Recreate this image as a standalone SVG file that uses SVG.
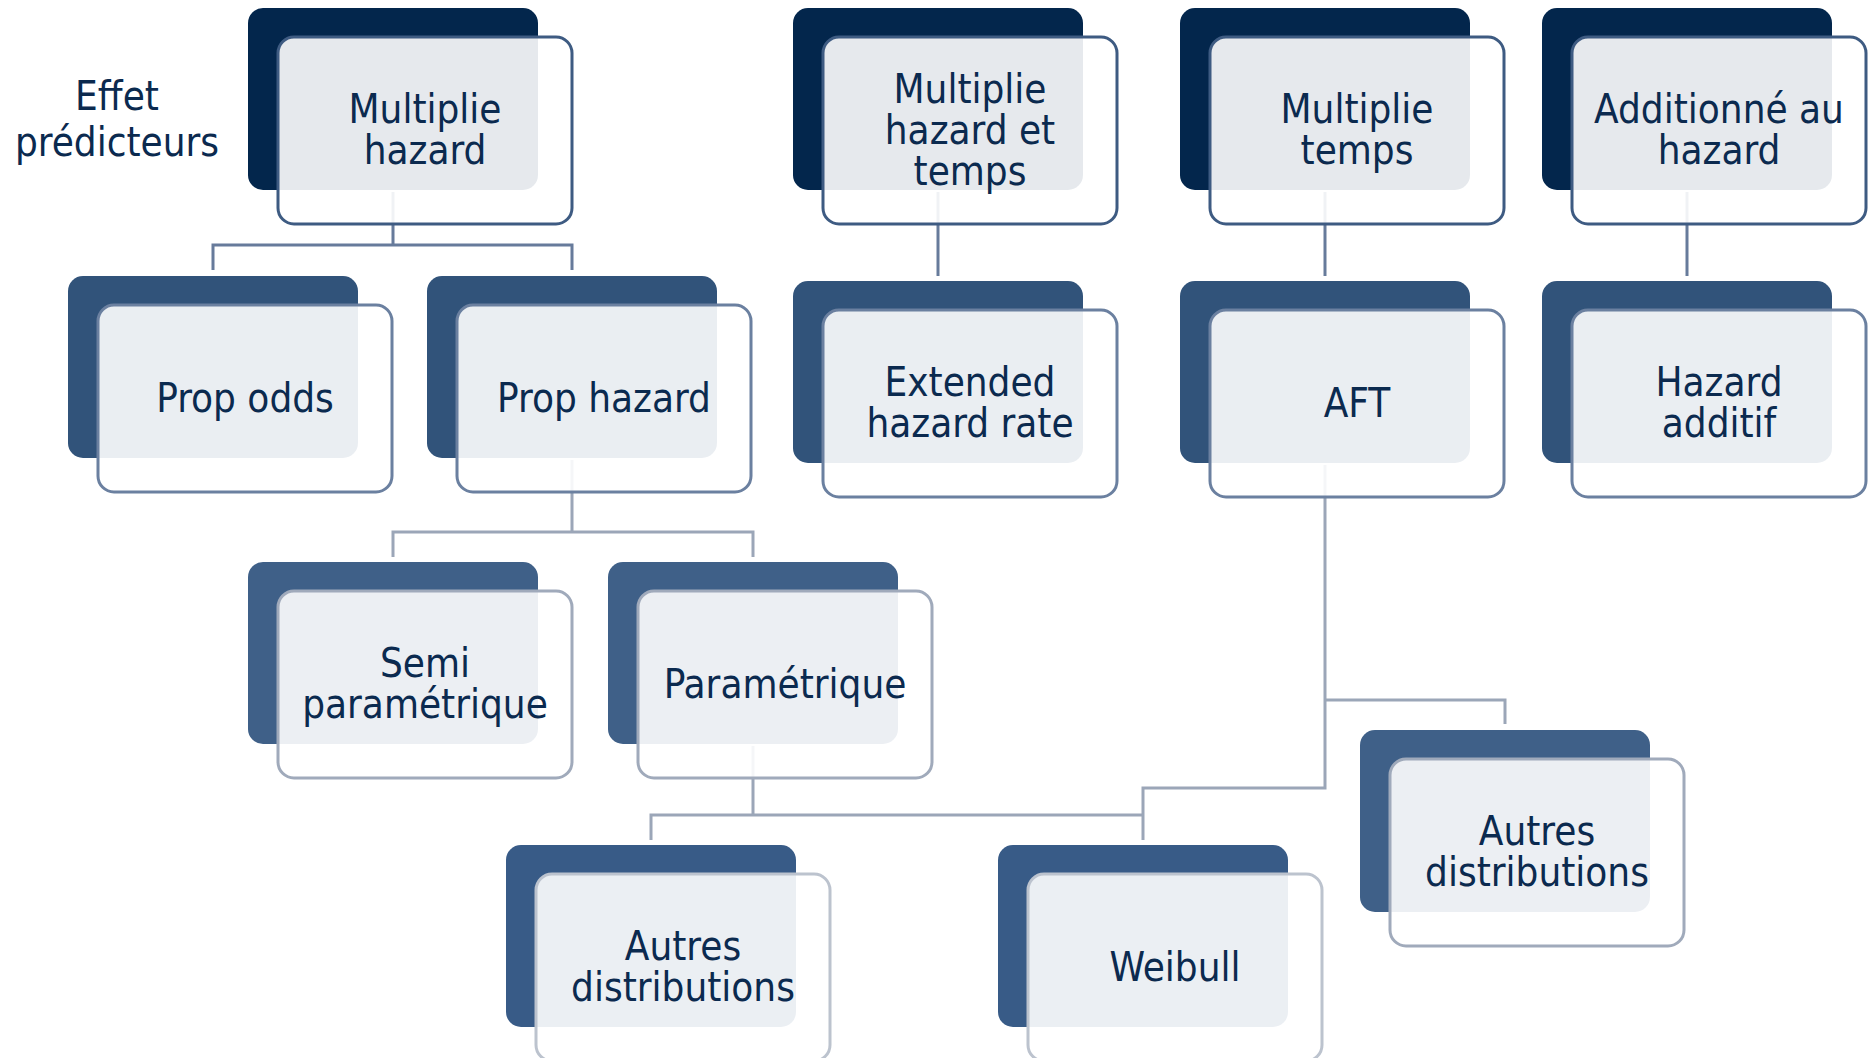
<svg xmlns="http://www.w3.org/2000/svg" width="1876" height="1058" viewBox="0 0 1876 1058">
<defs>
<style>
text{font-family:"DejaVu Sans Condensed","DejaVu Sans",sans-serif;font-stretch:semi-condensed;font-size:40px;fill:#0b2a4f;text-anchor:middle}
.back{rx:15px}
.front{fill:#ffffff;fill-opacity:0.9;stroke-width:3;rx:16px}
.r1 .back{fill:#03264c}.r1 .front{stroke:#3e5b82}
.r2 .back{fill:#31537a}.r2 .front{stroke:#6b80a0}
.r3 .back{fill:#3f6088}.r3 .front{stroke:#a0aabb}
.r4 .back{fill:#385b87}.r4 .front{stroke:#bcc3ce}
.c1{fill:none;stroke:#677b9b;stroke-width:3}
.c2{fill:none;stroke:#9ba6b8;stroke-width:3}
</style>
</defs>
<rect width="1876" height="1058" fill="#ffffff"/>
<g id="connectors">
<path class="c1" d="M393 192V245M213 270V245H572V270"/>
<path class="c1" d="M938 192V276"/>
<path class="c1" d="M1325 192V276"/>
<path class="c1" d="M1687 192V276"/>
<path class="c2" d="M572 460V532M393 557V532H753V557"/>
<path class="c2" d="M1325 465V788H1143V840M1325 700H1505V724"/>
<path class="c2" d="M753 746V815M651 840V815H1143"/>
</g>
<g id="label-effet"><text x="117" y="110">Effet</text><text x="117" y="156">prédicteurs</text></g>
<g id="n-multiplie-hazard" class="r1"><rect class="back" x="248" y="8" width="290" height="182"/><rect class="front" x="278" y="37" width="294" height="187"/><text x="425" y="123">Multiplie</text><text x="425" y="164">hazard</text></g>
<g id="n-multiplie-hazard-temps" class="r1"><rect class="back" x="793" y="8" width="290" height="182"/><rect class="front" x="823" y="37" width="294" height="187"/><text x="970" y="102.5">Multiplie</text><text x="970" y="143.5">hazard et</text><text x="970" y="184.5">temps</text></g>
<g id="n-multiplie-temps" class="r1"><rect class="back" x="1180" y="8" width="290" height="182"/><rect class="front" x="1210" y="37" width="294" height="187"/><text x="1357" y="123">Multiplie</text><text x="1357" y="164">temps</text></g>
<g id="n-additionne" class="r1"><rect class="back" x="1542" y="8" width="290" height="182"/><rect class="front" x="1572" y="37" width="294" height="187"/><text x="1719" y="123">Additionné au</text><text x="1719" y="164">hazard</text></g>
<g id="n-prop-odds" class="r2"><rect class="back" x="68" y="276" width="290" height="182"/><rect class="front" x="98" y="305" width="294" height="187"/><text x="245" y="411.5">Prop odds</text></g>
<g id="n-prop-hazard" class="r2"><rect class="back" x="427" y="276" width="290" height="182"/><rect class="front" x="457" y="305" width="294" height="187"/><text x="604" y="411.5">Prop hazard</text></g>
<g id="n-extended" class="r2"><rect class="back" x="793" y="281" width="290" height="182"/><rect class="front" x="823" y="310" width="294" height="187"/><text x="970" y="396">Extended</text><text x="970" y="437">hazard rate</text></g>
<g id="n-aft" class="r2"><rect class="back" x="1180" y="281" width="290" height="182"/><rect class="front" x="1210" y="310" width="294" height="187"/><text x="1357" y="416.5">AFT</text></g>
<g id="n-hazard-additif" class="r2"><rect class="back" x="1542" y="281" width="290" height="182"/><rect class="front" x="1572" y="310" width="294" height="187"/><text x="1719" y="396">Hazard</text><text x="1719" y="437">additif</text></g>
<g id="n-semi" class="r3"><rect class="back" x="248" y="562" width="290" height="182"/><rect class="front" x="278" y="591" width="294" height="187"/><text x="425" y="677">Semi</text><text x="425" y="718">paramétrique</text></g>
<g id="n-parametrique" class="r3"><rect class="back" x="608" y="562" width="290" height="182"/><rect class="front" x="638" y="591" width="294" height="187"/><text x="785" y="697.5">Paramétrique</text></g>
<g id="n-autres-aft" class="r3"><rect class="back" x="1360" y="730" width="290" height="182"/><rect class="front" x="1390" y="759" width="294" height="187"/><text x="1537" y="845">Autres</text><text x="1537" y="886">distributions</text></g>
<g id="n-autres-param" class="r4"><rect class="back" x="506" y="845" width="290" height="182"/><rect class="front" x="536" y="874" width="294" height="187"/><text x="683" y="960">Autres</text><text x="683" y="1001">distributions</text></g>
<g id="n-weibull" class="r4"><rect class="back" x="998" y="845" width="290" height="182"/><rect class="front" x="1028" y="874" width="294" height="187"/><text x="1175" y="980.5">Weibull</text></g>
</svg>
